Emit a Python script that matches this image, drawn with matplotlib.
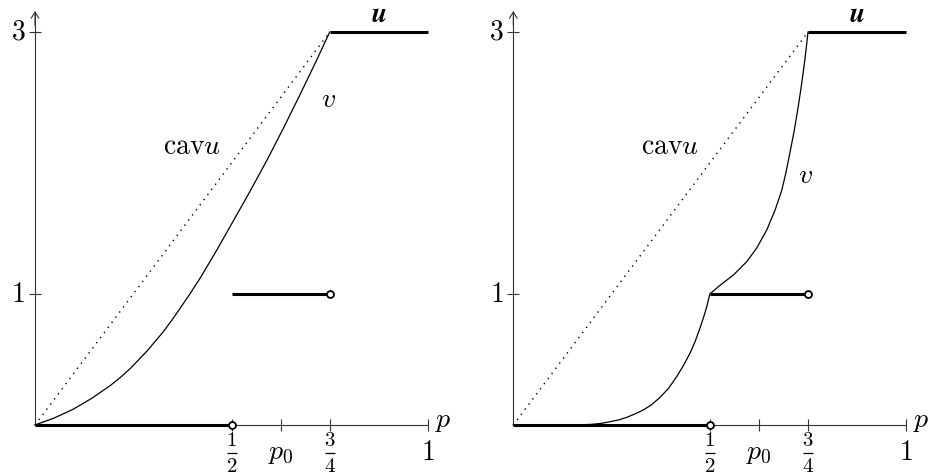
import matplotlib.pyplot as plt

plt.rcParams["mathtext.fontset"] = "cm"
plt.rcParams["font.family"] = "serif"

# values
p_left = [0, 0.0485, 0.097, 0.144, 0.191, 0.2165, 0.242, 0.284, 0.326, 0.3475,
          0.369, 0.3945, 0.42, 0.4625, 0.505, 0.5475, 0.59, 0.632, 0.674,
          0.712, 0.75]
v_left = [0, 0.053, 0.12, 0.203, 0.30, 0.361, 0.43, 0.561, 0.71, 0.797,
          0.89, 1.002, 1.12, 1.335, 1.56, 1.786, 2.02, 2.265, 2.52,
          2.756, 3.0]

p_right = [0, 0.161, 0.2, 0.225, 0.246, 0.27, 0.29, 0.31, 0.331, 0.352, 0.373,
           0.395, 0.416, 0.433, 0.45, 0.463, 0.475, 0.485, 0.492, 0.5,
           0.5255, 0.56, 0.594, 0.619, 0.645, 0.666, 0.683, 0.694, 0.704,
           0.715, 0.725, 0.734, 0.742, 0.75]
v_right = [0, 0, 0.005, 0.013, 0.025, 0.04, 0.06, 0.085, 0.115, 0.155, 0.21,
           0.28, 0.37, 0.455, 0.55, 0.64, 0.74, 0.83, 0.9, 1.0,
           1.065, 1.145, 1.247, 1.349, 1.489, 1.64, 1.79, 1.93, 2.08,
           2.25, 2.43, 2.61, 2.79, 3.0]

# u is piecewise constant
u_pieces = [([0, 0.5], [0, 0]), ([0.5, 0.75], [1, 1]), ([0.75, 1], [3, 3])]
open_ends_p = [0.5, 0.75]
open_ends_v = [0, 1]
cav_p = [0, 0.75]
cav_v = [0, 3]

xtick_pos = [0.5, 0.625, 0.75, 1.0]
# fractions given as (numerator, denominator)
xtick_labels = [("1", "2"), r"$p_0$", ("3", "4"), r"$1$"]
ytick_pos = [1, 3]
ytick_labels = [r"$1$", r"$3$"]

W, H = 935, 476
SX, SY = 393, 131
OY = 425
FS = 20
FS_FRAC = 15
AX_COL = "#333333"

fig = plt.figure(figsize=(W / 100, H / 100), dpi=100)

panels = [
    (35, 0, 467.5, p_left, v_left, (0.746, 2.43)),
    (513.3, 467.5, 935, p_right, v_right, (0.744, 1.845)),
]

for ox, x0, x1, pv, vv, vpos in panels:
    ax = fig.add_axes([x0 / W, 0, (x1 - x0) / W, 1])
    ax.set_xlim((x0 - ox) / SX, (x1 - ox) / SX)
    ax.set_ylim((OY - H) / SY, OY / SY)
    ax.patch.set_visible(False)
    for s in ["top", "right"]:
        ax.spines[s].set_visible(False)
    for s in ["left", "bottom"]:
        ax.spines[s].set_position(("data", 0))
        ax.spines[s].set_color(AX_COL)
        ax.spines[s].set_linewidth(0.8)
    ax.spines["bottom"].set_bounds(0, 1)
    ax.spines["left"].set_bounds(0, 3.15)
    ax.annotate("", xy=(0, 3.16), xytext=(0, 3.05),
                arrowprops=dict(arrowstyle="->,head_length=0.45,head_width=0.28",
                                lw=0.8, color=AX_COL, shrinkA=0, shrinkB=0))

    ax.set_xticks(xtick_pos)
    ax.set_yticks(ytick_pos)
    ax.set_xticklabels([])
    ax.set_yticklabels([])
    ax.tick_params(direction="inout", length=9, width=0.8, color=AX_COL)

    for x, lab in zip(xtick_pos, xtick_labels):
        if isinstance(lab, tuple):
            ax.text(x, -0.118, "$%s$" % lab[0], fontsize=FS_FRAC,
                    ha="center", va="center")
            ax.text(x, -0.315, "$%s$" % lab[1], fontsize=FS_FRAC,
                    ha="center", va="center")
            ax.plot(x, -0.216, marker="_", ms=7, mew=0.9, color="black",
                    clip_on=False)
        else:
            ax.text(x, -0.21, lab, fontsize=FS, ha="center", va="center")
    for y, lab in zip(ytick_pos, ytick_labels):
        ax.text(-0.025, y, lab, fontsize=FS, ha="right", va="center")
    ax.text(1.018, -0.015, r"$p$", fontsize=FS, ha="left", va="baseline")

    # concavification (dotted)
    ax.plot(cav_p, cav_v, color="black", lw=1.0, linestyle=(0, (1, 3.6)),
            dash_capstyle="butt", zorder=2)
    # v
    ax.plot(pv, vv, color="black", lw=0.9, zorder=3)
    # u
    for xs, ys in u_pieces:
        ax.plot(xs, ys, color="black", lw=2.2, solid_capstyle="butt", zorder=4)
    ax.plot(open_ends_p, open_ends_v, "o", ms=5, mfc="white", mec="black",
            mew=1.3, zorder=5)

    ax.text(0.399, 2.07, r"$\mathrm{cav}u$", fontsize=FS, ha="center", va="baseline")
    ax.text(vpos[0], vpos[1], r"$v$", fontsize=FS, ha="center", va="baseline")
    ax.text(0.876, 3.08, "u", fontsize=FS, ha="center", va="baseline",
            family="STIXGeneral", weight="bold", style="italic")

fig.savefig("out.png", dpi=100)
